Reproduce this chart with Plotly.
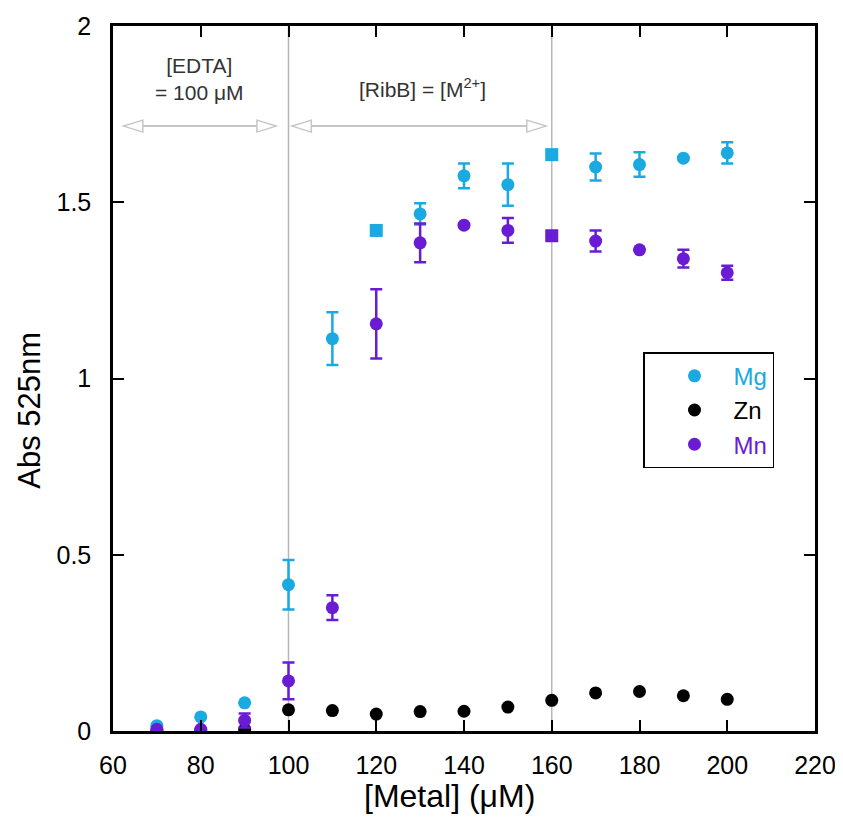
import plotly.graph_objects as go

# ---------------- data ----------------
metal = [70, 80, 90, 100, 110, 120, 130, 140, 150, 160, 170, 180, 190, 200]

mg_abs = [0.015, 0.04, 0.08, 0.415, 1.113, 1.42, 1.467, 1.575, 1.55, 1.635, 1.60, 1.607, 1.625, 1.64]
mg_err = [0.0, 0.0, 0.0, 0.07, 0.075, 0.0, 0.03, 0.035, 0.06, 0.0, 0.038, 0.035, 0.0, 0.03]

zn_abs = [0.0, 0.0, 0.005, 0.06, 0.058, 0.048, 0.055, 0.056, 0.068, 0.087, 0.108, 0.112, 0.10, 0.09]

mn_abs = [0.005, 0.005, 0.03, 0.142, 0.35, 1.155, 1.385, 1.435, 1.42, 1.405, 1.39, 1.365, 1.34, 1.30]
mn_err = [0.0, 0.0, 0.02, 0.052, 0.035, 0.098, 0.055, 0.0, 0.035, 0.0, 0.03, 0.0, 0.025, 0.02]

mg_square_at = [120, 160]
mn_square_at = [160]

x_ticks = [60, 80, 100, 120, 140, 160, 180, 200, 220]
y_ticks = [0, 0.5, 1, 1.5, 2]
y_tick_text = ["0", "0.5", "1", "1.5", "2"]

x_title = "[Metal] (μM)"
y_title = "Abs 525nm"

# ---------------- style ----------------
MG = "#1aa9e0"
MN = "#6a1cd4"
ZN = "#000000"
FONT = "Liberation Sans, Arial, Helvetica, sans-serif"

def symbols(xs, squares):
    return ["square" if x in squares else "circle" for x in xs]

fig = go.Figure()

fig.add_trace(go.Scatter(
    x=metal, y=mg_abs, mode="markers",
    name='<span style="color:%s">Mg</span>' % MG,
    marker=dict(color=MG, size=13, symbol=symbols(metal, mg_square_at)),
    error_y=dict(type="data", array=mg_err, color=MG, thickness=2.5, width=6),
))
fig.add_trace(go.Scatter(
    x=metal, y=zn_abs, mode="markers",
    name='<span style="color:%s">Zn</span>' % ZN,
    marker=dict(color=ZN, size=13),
))
fig.add_trace(go.Scatter(
    x=metal, y=mn_abs, mode="markers",
    name='<span style="color:%s">Mn</span>' % MN,
    marker=dict(color=MN, size=13, symbol=symbols(metal, mn_square_at)),
    error_y=dict(type="data", array=mn_err, color=MN, thickness=2.5, width=6),
))

# vertical reference lines
for xv in [100, 160]:
    fig.add_shape(type="line", x0=xv, x1=xv, y0=0, y1=2, xref="x", yref="y",
                  line=dict(color="#b8b8b8", width=1.5), layer="below")

# double-headed hollow arrows
arrow_y = 1.716
arrows = [(62.4, 97.2), (100.8, 158.7)]
head_len = 4.4
head_half = 0.017
AC = "#c6c6c6"
for a0, a1 in arrows:
    fig.add_shape(type="line", x0=a0 + head_len, x1=a1 - head_len, y0=arrow_y, y1=arrow_y,
                  line=dict(color=AC, width=2))
    fig.add_shape(type="path",
                  path="M %f,%f L %f,%f L %f,%f Z" % (a0 + head_len, arrow_y + head_half, a0, arrow_y,
                                                        a0 + head_len, arrow_y - head_half),
                  line=dict(color=AC, width=1.5), fillcolor="white")
    fig.add_shape(type="path",
                  path="M %f,%f L %f,%f L %f,%f Z" % (a1 - head_len, arrow_y + head_half, a1, arrow_y,
                                                        a1 - head_len, arrow_y - head_half),
                  line=dict(color=AC, width=1.5), fillcolor="white")

ANN_FONT = dict(family=FONT, size=21, color="#333333")
fig.add_annotation(x=79.8, y=1.849, xref="x", yref="y", showarrow=False,
                   text="[EDTA]<br>= 100 μM", align="center", font=ANN_FONT)
fig.add_annotation(x=130.6, y=1.782, xref="x", yref="y", showarrow=False,
                   yanchor="bottom",
                   text="[RibB] = [M<sup>2+</sup>]", font=ANN_FONT)

# axis titles (placed off-centre as in the reference)
fig.add_annotation(x=0.480, y=-0.092, xref="paper", yref="paper", showarrow=False,
                   xanchor="center", yanchor="middle",
                   text=x_title, font=dict(family=FONT, size=32, color="black"))
fig.add_annotation(x=-0.119, y=0.455, xref="paper", yref="paper", showarrow=False,
                   xanchor="center", yanchor="middle",
                   textangle=-90, text=y_title,
                   font=dict(family=FONT, size=31, color="black"))

axis_common = dict(
    showgrid=False, zeroline=False, showline=True, linecolor="black", linewidth=2.5,
    mirror="ticks", ticks="inside", ticklen=11, tickwidth=2, tickcolor="black",
    tickfont=dict(family=FONT, size=25, color="black"), automargin=False,
    ticklabeloverflow="allow",
)

fig.update_xaxes(range=[60, 220], tickvals=x_ticks, ticklabelstandoff=10, **axis_common)
fig.update_yaxes(range=[0, 2], tickvals=y_ticks, ticktext=y_tick_text, ticklabelstandoff=14,
                 **axis_common)

# the page body adds an 8px offset; the figure is sized so the plot lands in place
fig.update_layout(
    width=827, height=808,
    margin=dict(l=105, r=20, t=18, b=85, autoexpand=False),
    plot_bgcolor="white", paper_bgcolor="white",
    showlegend=True,
    legend=dict(x=0.755, y=0.455, xanchor="left", yanchor="middle",
                bgcolor="white", bordercolor="black", borderwidth=1.5,
                font=dict(family=FONT, size=24), itemwidth=68, indentation=11,
                tracegroupgap=0),
)

fig.write_html("out.html")
